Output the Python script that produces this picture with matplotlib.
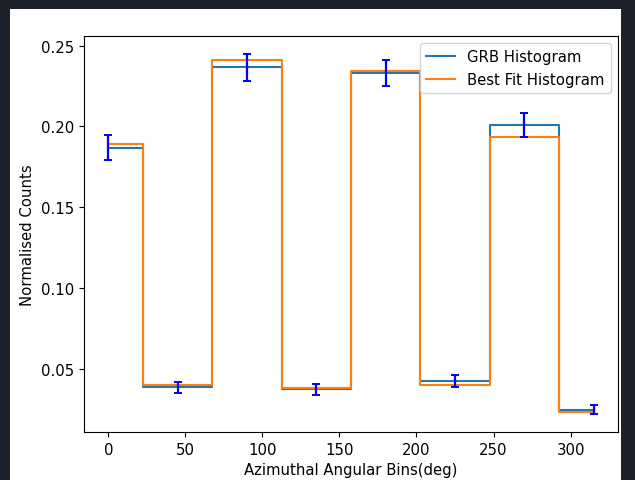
import matplotlib
matplotlib.use("Agg")
import matplotlib.pyplot as plt
from matplotlib.patches import Rectangle

bins = [0, 45, 90, 135, 180, 225, 270, 315]
grb_counts = [0.187, 0.0387, 0.2365, 0.0375, 0.2330, 0.0427, 0.2010, 0.0250]
fit_counts = [0.189, 0.0401, 0.2410, 0.0385, 0.2340, 0.0405, 0.1937, 0.0237]
grb_errors = [0.0075, 0.0035, 0.0083, 0.0033, 0.0080, 0.0038, 0.0075, 0.0027]

plt.rcParams["font.size"] = 10.7

fig = plt.figure(figsize=(6.35, 4.81), dpi=100)
fig.patch.set_facecolor("#1b202b")
fig.patches.append(Rectangle((10 / 635, 0), (621 - 10) / 635, 1 - 10 / 481,
                             transform=fig.transFigure, facecolor="white",
                             edgecolor="none", zorder=-10))

ax = fig.add_axes([84 / 635, 1 - 433 / 481, (618 - 84) / 635, (433 - 37) / 481])
ax.step(bins, grb_counts, where="mid", color="tab:blue", label="GRB Histogram")
ax.step(bins, fit_counts, where="mid", color="tab:orange", label="Best Fit Histogram")
ax.errorbar(bins, grb_counts, yerr=grb_errors, fmt="none", ecolor="blue",
            capsize=3.2, elinewidth=1.6, capthick=1.4)

ax.set_xticks([0, 50, 100, 150, 200, 250, 300])
ax.set_yticks([0.05, 0.10, 0.15, 0.20, 0.25])
ax.set_xlabel("Azimuthal Angular Bins(deg)")
ax.set_ylabel("Normalised Counts")
ax.legend(loc="upper right")

fig.savefig("out.png", dpi=100, facecolor=fig.get_facecolor())
